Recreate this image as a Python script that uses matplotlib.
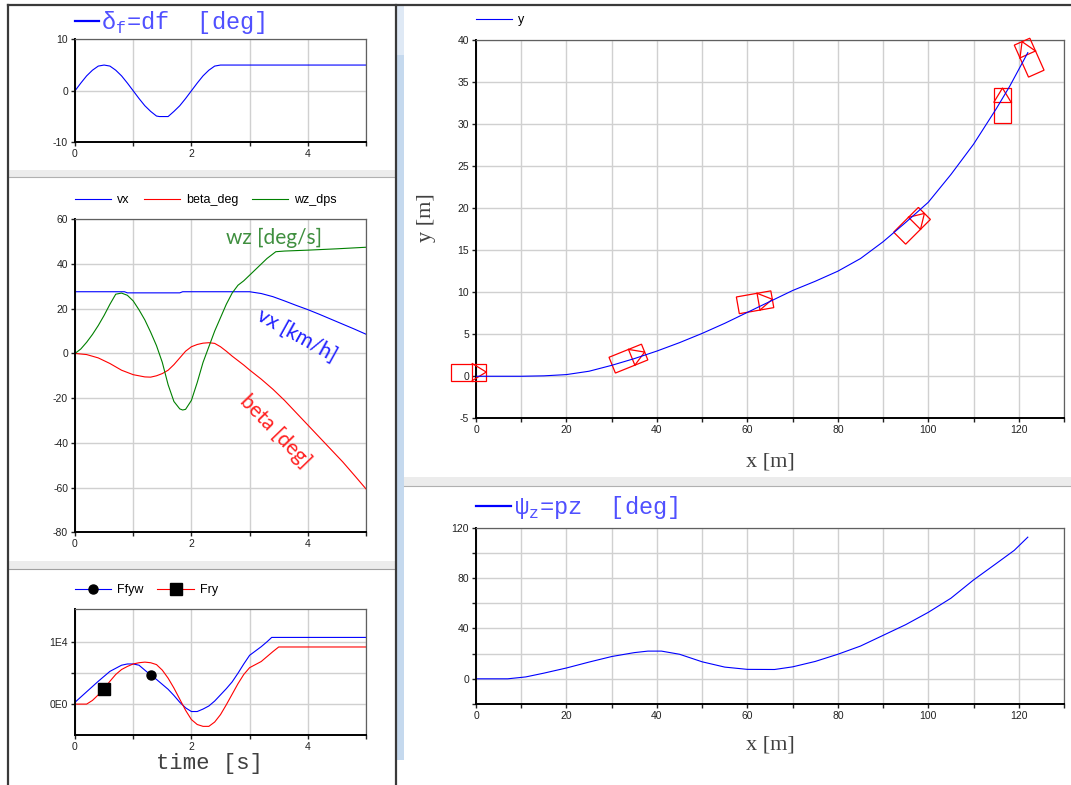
import matplotlib
matplotlib.use("Agg")
import matplotlib.pyplot as plt
import matplotlib.transforms as mtransforms
from matplotlib.patches import Rectangle
from matplotlib.lines import Line2D

plt.rcParams['font.family'] = 'Liberation Sans'
plt.rcParams['axes.unicode_minus'] = False
plt.rcParams['mathtext.fontset'] = 'custom'
plt.rcParams['mathtext.rm'] = 'Liberation Mono'

W, H = 1071, 785

# steering angle df [deg] vs time [s]
t_df = [0, 0.1, 0.2, 0.3, 0.4, 0.5, 0.6, 0.7, 0.8, 0.9, 1.0, 1.1, 1.2, 1.3, 1.4,
        1.45, 1.6, 1.7, 1.8, 1.9, 2.0, 2.1, 2.2, 2.3, 2.4, 2.5, 5.0]
df = [0, 1.5, 2.9, 4.0, 4.8, 5.0, 4.8, 4.0, 2.9, 1.5, 0, -1.5, -2.9, -4.0, -4.9,
      -5.0, -5.0, -4.0, -2.9, -1.5, 0, 1.5, 2.9, 4.0, 4.8, 5.0, 5.0]

# vx [km/h]
t_vx = [0, 0.85, 0.9, 1.8, 1.85, 3.0, 3.2, 3.4, 3.6, 3.8, 4.0, 4.2, 4.4, 4.6, 4.8, 5.0]
vx = [27.6, 27.6, 27.1, 27.1, 27.6, 27.6, 26.8, 25.4, 23.5, 21.5, 19.6, 17.5, 15.3,
      13.1, 10.9, 8.6]

# beta [deg]
t_beta = [0, 0.2, 0.4, 0.6, 0.8, 1.0, 1.2, 1.3, 1.4, 1.5, 1.6, 1.7, 1.8, 1.9, 2.0,
          2.1, 2.2, 2.3, 2.4, 2.5, 2.6, 2.7, 2.8, 2.9, 3.0, 3.2, 3.4, 3.6, 3.8, 4.0,
          4.2, 4.4, 4.6, 4.8, 5.0]
beta = [0, -0.5, -2, -4.5, -7.5, -9.5, -10.5, -10.6, -10, -9, -7.5, -5, -2, 1, 3,
        4, 4.6, 4.8, 4.5, 3, 1, -1.2, -3.2, -5.2, -7.4, -11.5, -16, -21, -26.5, -32,
        -37.5, -43, -48.5, -54.5, -60.6]

# wz [deg/s]
t_wz = [0, 0.1, 0.2, 0.3, 0.4, 0.5, 0.6, 0.7, 0.8, 0.9, 1.0, 1.1, 1.2, 1.3, 1.4,
        1.5, 1.6, 1.7, 1.8, 1.85, 1.9, 2.0, 2.1, 2.2, 2.3, 2.4, 2.5, 2.6, 2.7, 2.8,
        2.9, 3.0, 3.1, 3.2, 3.3, 3.45, 3.6, 4.0, 4.5, 5.0]
wz = [0, 2, 5, 8.5, 12.5, 17, 22, 26.5, 27, 26, 23.5, 19.5, 15, 9.5, 3.5,
      -4, -14, -21.5, -24.8, -25.3, -25, -21, -13, -4, 3, 10, 16, 22, 27, 30.5,
      32.5, 35, 37.5, 40, 42.5, 45.5, 45.8, 46.2, 46.8, 47.5]

# lateral forces [N]
t_ffyw = [0, 0.2, 0.4, 0.6, 0.8, 0.9, 1.0, 1.1, 1.2, 1.3, 1.4, 1.5, 1.6, 1.7, 1.8,
          1.9, 2.0, 2.1, 2.2, 2.3, 2.4, 2.5, 2.6, 2.7, 2.8, 2.9, 3.0, 3.1, 3.2, 3.3,
          3.38, 5.0]
ffyw = [300, 2000, 3700, 5300, 6300, 6500, 6500, 6300, 5500, 4700, 4000, 3200, 2400,
        1400, 300, -600, -1200, -1200, -800, -300, 500, 1500, 2500, 3600, 5000, 6500,
        7900, 8600, 9300, 10100, 10800, 10800]
t_fry = [0, 0.2, 0.3, 0.4, 0.5, 0.6, 0.7, 0.8, 0.9, 1.0, 1.1, 1.2, 1.3, 1.4, 1.5,
         1.6, 1.7, 1.8, 1.9, 2.0, 2.1, 2.2, 2.3, 2.4, 2.5, 2.6, 2.7, 2.8, 2.9, 3.0,
         3.1, 3.2, 3.3, 3.4, 3.5, 5.0]
fry = [0, 0, 600, 1500, 2500, 3700, 4800, 5600, 6100, 6500, 6700, 6800, 6700, 6400,
       5500, 4200, 2600, 800, -1000, -2500, -3300, -3600, -3600, -2900, -1700, -100,
       1600, 3300, 4800, 5900, 6400, 6900, 7700, 8500, 9250, 9250]

# trajectory y [m] vs x [m]
x_traj = [0, 10, 15, 20, 25, 30, 35, 40, 45, 50, 55, 60, 65, 70, 75, 80, 85, 90, 95,
          100, 105, 110, 115, 118, 120, 122]
y_traj = [0, 0, 0.05, 0.2, 0.6, 1.3, 2.1, 3.0, 4.0, 5.1, 6.3, 7.6, 8.9, 10.2, 11.3,
          12.5, 14.0, 16.0, 18.3, 20.7, 24.0, 27.6, 31.8, 34.5, 36.5, 38.5]

# yaw angle pz [deg] vs x [m]
x_psi = [0, 7, 11, 15, 20, 25, 30, 35, 38, 41, 45, 50, 55, 60, 66, 70, 75, 80, 85,
         90, 95, 100, 105, 110, 115, 119, 122]
psi = [0, 0, 1.5, 4.5, 8.6, 13.3, 17.7, 20.8, 22, 22, 19.5, 13.5, 9.3, 7.5, 7.4,
       9.5, 13.8, 19.5, 26, 34.5, 43, 52.8, 64, 78.5, 91.5, 102, 112.5]

# vehicle snapshots drawn on the trajectory
car_x = [-1.6, 33.7, 61.7, 96.4, 116.4, 122.3]
car_y = [0.5, 2.1, 8.8, 17.9, 32.2, 37.9]
car_ang = [0, 22, 10, 45, 90, 114]

fig = plt.figure(figsize=(W / 100, H / 100), dpi=100)
fig.patch.set_facecolor('white')


def box(l, t, r, b):
    return [l / W, 1 - b / H, (r - l) / W, (b - t) / H]


def frect(x0, y0, x1, y1, **kw):
    fig.add_artist(Rectangle((x0 / W, 1 - y1 / H), (x1 - x0) / W, (y1 - y0) / H,
                             transform=fig.transFigure, **kw))


def fline(x0, y0, x1, y1, **kw):
    fig.add_artist(Line2D([x0 / W, x1 / W], [1 - y0 / H, 1 - y1 / H],
                          transform=fig.transFigure, **kw))


def style(ax):
    ax.grid(True, which='both', color='#d0d0d0', lw=1.0)
    ax.set_axisbelow(True)
    for s in ['left', 'bottom']:
        ax.spines[s].set_linewidth(1.4)
        ax.spines[s].set_color('black')
    for s in ['top', 'right']:
        ax.spines[s].set_linewidth(0.9)
        ax.spines[s].set_color('#606060')
    ax.tick_params(which='both', direction='out', length=3, width=1,
                   labelsize=7.5, pad=2, colors='#222222')


def title_legend(ax, line, label, dy, hl):
    leg = ax.legend([line], [label], loc='center left', bbox_to_anchor=(0, 1 + dy),
                    frameon=False, handlelength=hl, handletextpad=0.1,
                    borderpad=0, borderaxespad=0,
                    prop={'family': 'Liberation Mono', 'size': 17},
                    labelcolor='#5050ff')
    leg.get_lines()[0].set_linewidth(1.6)
    return leg


def small_legend(ax, dy, ncol):
    return ax.legend(loc='center left', bbox_to_anchor=(0, 1 + dy), ncol=ncol,
                     frameon=False, handlelength=2.9, handletextpad=0.48,
                     columnspacing=1.1, borderpad=0, borderaxespad=0,
                     prop={'size': 9}, numpoints=1)


def draw_car(ax, cx, cy, ang, L=35, Wd=17, fl=14):
    tr = mtransforms.Affine2D().rotate_deg(ang) + \
        mtransforms.ScaledTranslation(cx, cy, ax.transData)
    kw = dict(color='red', lw=0.9, transform=tr, clip_on=False, zorder=3)
    ax.add_patch(Rectangle((-L / 2, -Wd / 2), L, Wd, fill=False, ec='red', lw=0.9,
                           transform=tr, clip_on=False, zorder=3))
    d = L / 2 - fl
    ax.add_line(Line2D([d, d], [-Wd / 2, Wd / 2], **kw))
    ax.add_line(Line2D([d, L / 2, d], [Wd / 2, 0, -Wd / 2], **kw))


# window frame
frect(397, 4, 404, 760, color='#c5d9ee', lw=0)
frect(397, 4, 404, 55, color='#dfe9f5', lw=0)
frect(8, 170, 395, 177, color='#ececec', lw=0)
fline(8, 177, 395, 177, color='#b0b0b0', lw=0.8)
frect(8, 561, 395, 569, color='#ececec', lw=0)
fline(8, 569, 395, 569, color='#a0a0a0', lw=0.8)
frect(404, 477, 1071, 486, color='#ececec', lw=0)
fline(404, 486, 1071, 486, color='#b0b0b0', lw=0.8)
fline(7.5, 4.5, 1071, 4.5, color='#3a3a3a', lw=1.6)
fline(7.5, 4.5, 7.5, 785, color='#3a3a3a', lw=1.6)
fline(395.5, 4.5, 395.5, 785, color='#3a3a3a', lw=1.6)

# ---- top left: steering angle
ax1 = fig.add_axes(box(75, 39.3, 366, 142.3))
l1, = ax1.plot(t_df, df, color='#0000ff', lw=0.8)
ax1.set_xlim(0, 5)
ax1.set_ylim(-10, 10)
ax1.set_xticks([0, 2, 4])
ax1.set_xticks([1, 3, 5], minor=True)
ax1.set_yticks([-10, 0, 10])
style(ax1)
title_legend(ax1, l1, 'δ$_\\mathrm{f}$=df  [deg]', 17 / 103, 1.0)

# ---- middle left: vx, beta, wz
ax2 = fig.add_axes(box(75, 219.3, 366, 532.3))
ax2.plot(t_vx, vx, color='#0000ff', lw=0.8, label='vx')
ax2.plot(t_beta, beta, color='#ff0000', lw=0.8, label='beta_deg')
ax2.plot(t_wz, wz, color='#008000', lw=0.8, label='wz_dps')
ax2.set_xlim(0, 5)
ax2.set_ylim(-80, 60)
ax2.set_xticks([0, 2, 4])
ax2.set_xticks([1, 3, 5], minor=True)
ax2.set_yticks(range(-80, 61, 20))
style(ax2)
small_legend(ax2, 19 / 313, 3)
ax2.text(2.6, 51.5, 'wz [deg/s]', color='#3f8f3f', family='Lato', fontsize=15,
         ha='left', va='center')
ax2.text(3.82, 8.3, 'vx [km/h]', color='#2020ff', family='Lato', fontsize=15,
         ha='center', va='center', rotation=-29, rotation_mode='anchor')
ax2.text(3.45, -35, 'beta [deg]', color='#ff2020', family='Lato', fontsize=15,
         ha='center', va='center', rotation=-46, rotation_mode='anchor')

# ---- bottom left: lateral forces
ax3 = fig.add_axes(box(75, 609, 366, 735))
ax3.plot(t_ffyw, ffyw, color='#0000ff', lw=0.8, label='Ffyw', marker='o', ms=6.5,
         mfc='black', mec='black', markevery=[t_ffyw.index(1.3)])
ax3.plot(t_fry, fry, color='#ff0000', lw=0.8, label='Fry', marker='s', ms=8,
         mfc='black', mec='black', markevery=[t_fry.index(0.5)])
ax3.set_xlim(0, 5)
ax3.set_ylim(-5000, 15400)
ax3.set_xticks([0, 2, 4])
ax3.set_xticks([1, 3, 5], minor=True)
ax3.set_yticks([0, 10000])
ax3.set_yticklabels(['0E0', '1E4'])
ax3.set_yticks([5000], minor=True)
style(ax3)
small_legend(ax3, 19 / 126, 2)
ax3.set_xlabel('time [s]', family='Liberation Mono', fontsize=16, color='#404040',
               bbox=dict(facecolor='white', edgecolor='none', pad=0))
ax3.xaxis.set_label_coords((209 - 75) / 291, -(763 - 735) / 126)
ax3.xaxis.label.set_va('center')

# ---- top right: trajectory
ax4 = fig.add_axes(box(476, 40, 1064, 418.3))
ax4.plot(x_traj, y_traj, color='#0000ff', lw=0.8, label='y', zorder=4)
for cx, cy, ca in zip(car_x, car_y, car_ang):
    draw_car(ax4, cx, cy, ca)
ax4.set_xlim(0, 130)
ax4.set_ylim(-5, 40)
ax4.set_xticks(range(0, 121, 20))
ax4.set_xticks(range(10, 131, 20), minor=True)
ax4.set_yticks(range(-5, 41, 5))
style(ax4)
small_legend(ax4, 20 / 378, 1)
ax4.set_xlabel('x [m]', family='Liberation Serif', fontsize=16, color='#404040')
ax4.xaxis.set_label_coords(0.5, -(462 - 418.3) / 378)
ax4.xaxis.label.set_va('center')
ax4.set_ylabel('y [m]', family='Liberation Serif', fontsize=16, color='#404040')
ax4.yaxis.set_label_coords(-(476 - 427) / 588, (418.3 - 218) / 378)
ax4.yaxis.label.set_va('center')

# ---- bottom right: yaw angle
ax5 = fig.add_axes(box(476, 527.7, 1064, 704))
l5, = ax5.plot(x_psi, psi, color='#0000ff', lw=0.8)
ax5.set_xlim(0, 130)
ax5.set_ylim(-20, 120)
ax5.set_xticks(range(0, 121, 20))
ax5.set_xticks(range(10, 131, 20), minor=True)
ax5.set_yticks([0, 40, 80, 120])
ax5.set_yticks([-20, 20, 60, 100], minor=True)
style(ax5)
title_legend(ax5, l5, 'ψ$_\\mathrm{z}$=pz  [deg]', 20 / 176, 1.5)
ax5.set_xlabel('x [m]', family='Liberation Serif', fontsize=16, color='#404040')
ax5.xaxis.set_label_coords(0.5, -(745 - 704) / 176)
ax5.xaxis.label.set_va('center')

fig.savefig('out.png', dpi=100)
